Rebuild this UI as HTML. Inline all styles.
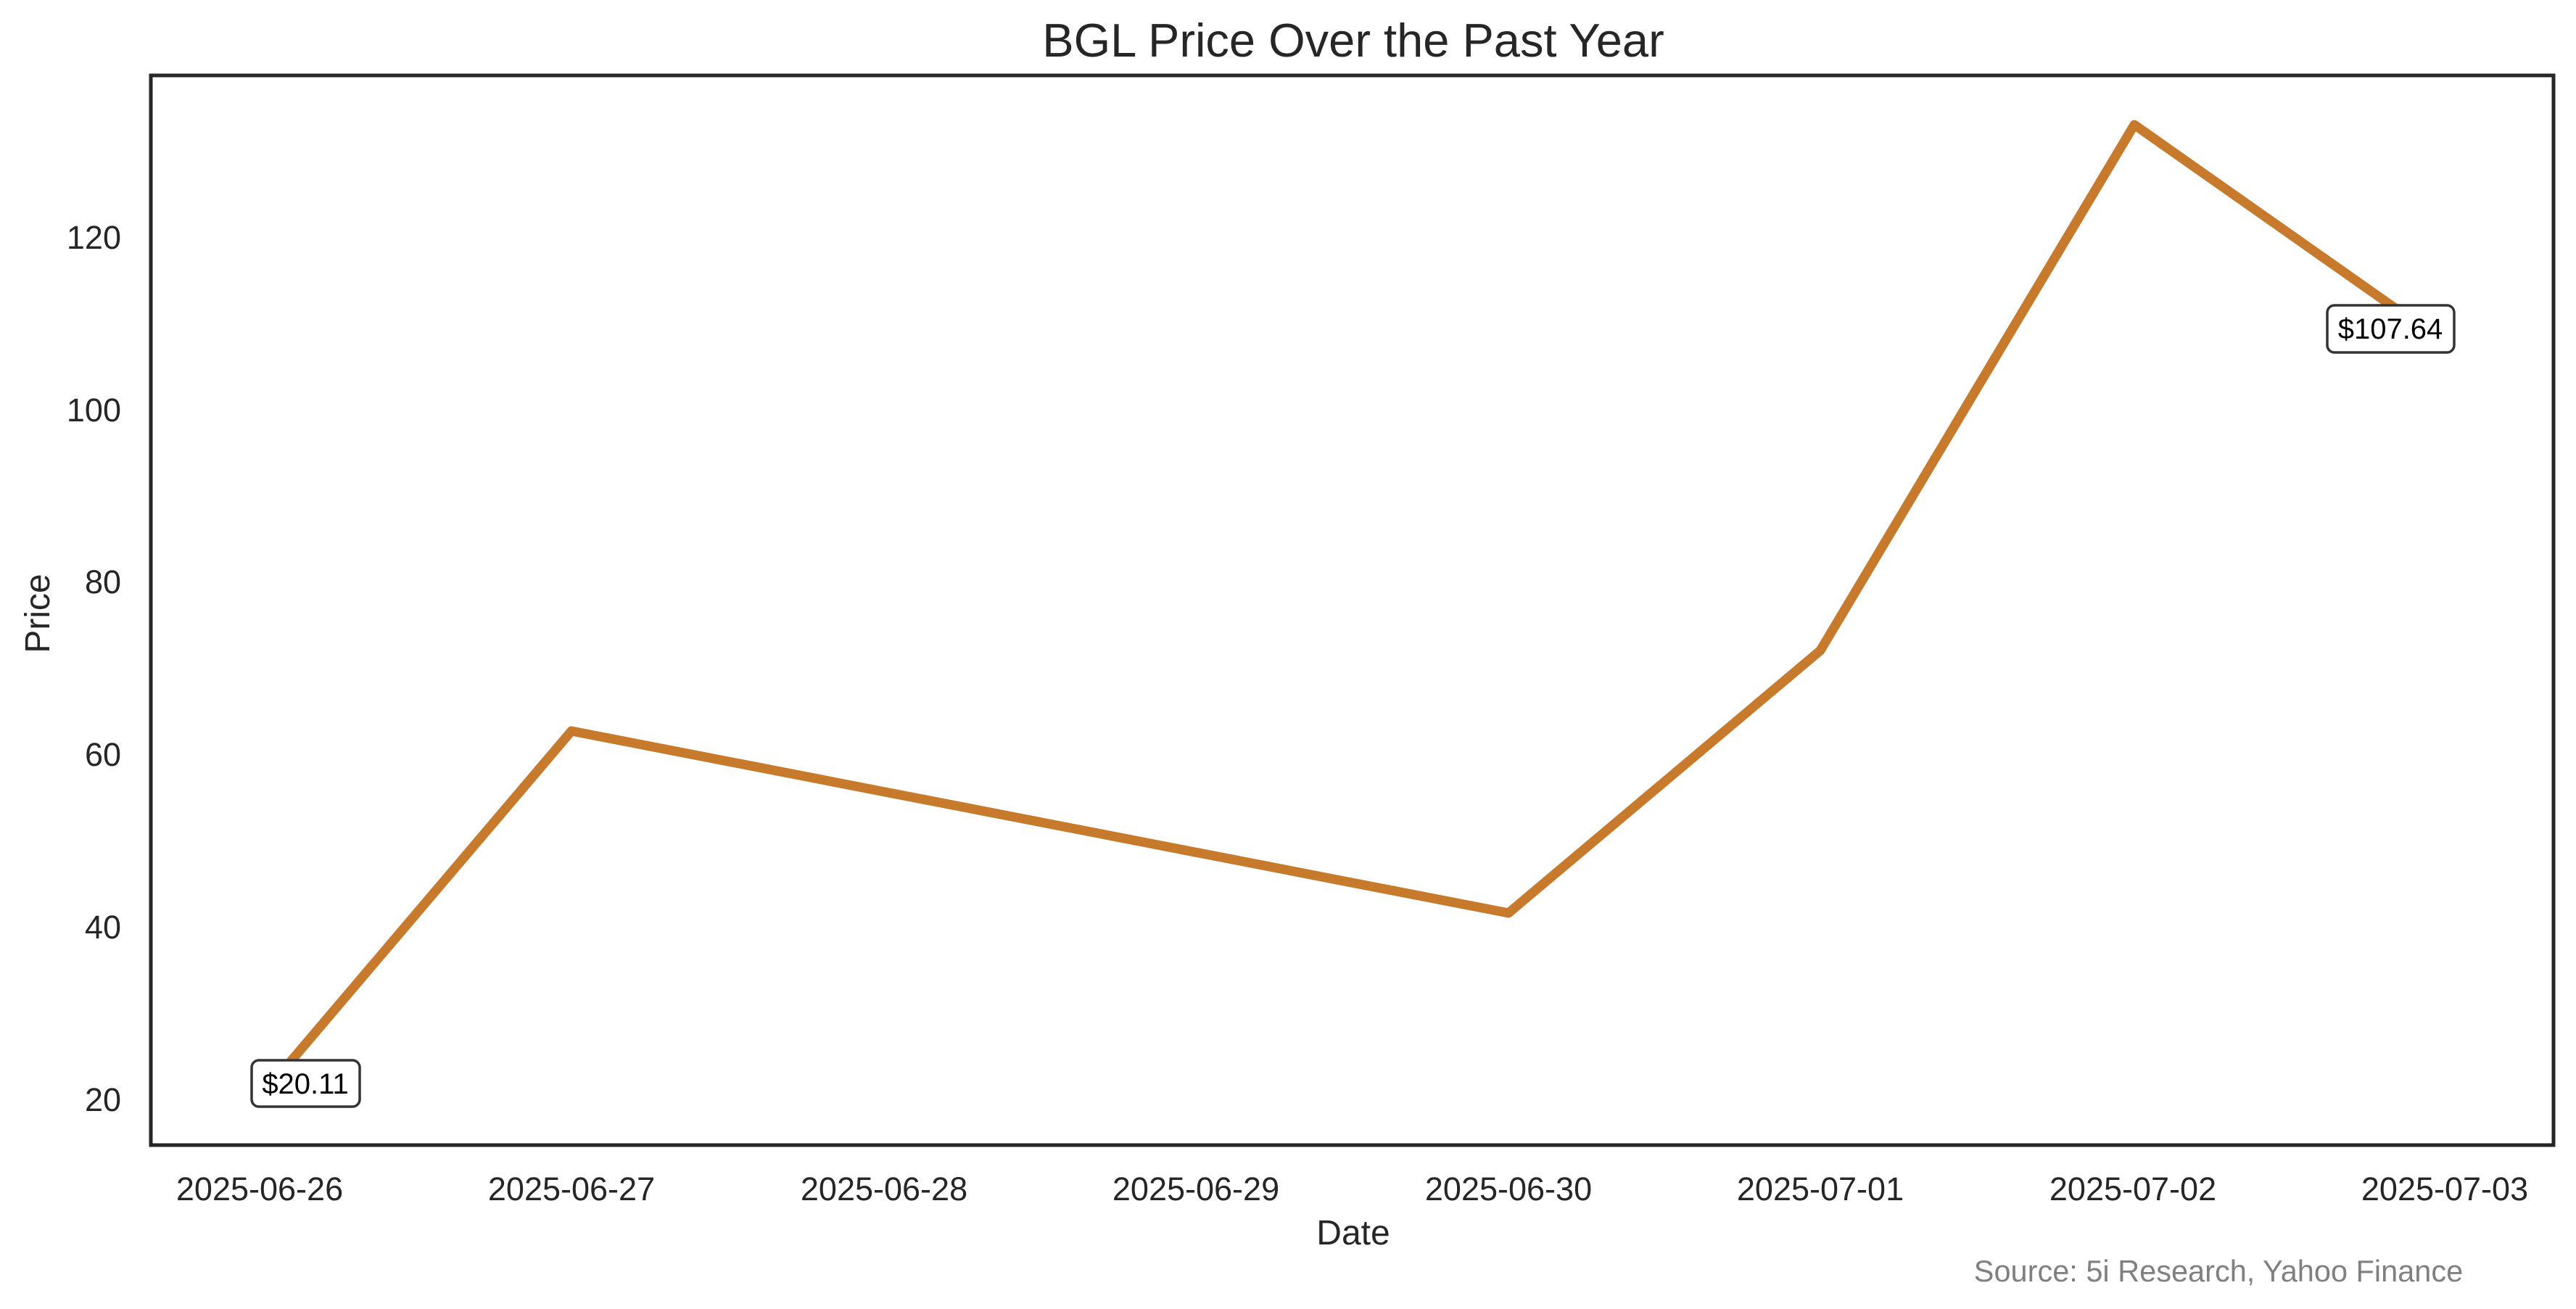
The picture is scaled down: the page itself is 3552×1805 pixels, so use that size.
<!DOCTYPE html>
<html><head><meta charset="utf-8"><style>
html,body{margin:0;padding:0;background:#fff;}
svg{display:block;}
text{font-family:"Liberation Sans",Arial,sans-serif;}
</style></head><body>
<svg width="3552" height="1805" viewBox="0 0 3552 1805" xmlns="http://www.w3.org/2000/svg">
<rect width="3552" height="1805" fill="#fff"/>
<text x="1866" y="78" font-size="65" fill="#262626" text-anchor="middle">BGL Price Over the Past Year</text>
<polyline points="358,1514 788,1008 2080,1259 2510,897 2943,172 3371,473" fill="none" stroke="#c87a2c" stroke-width="13" stroke-linejoin="round" stroke-linecap="round"/>
<rect x="208" y="104" width="3313" height="1475" fill="none" stroke="#262626" stroke-width="5"/>
<g font-size="45" fill="#262626" text-anchor="end">
<text x="167" y="1532">20</text>
<text x="167" y="1294">40</text>
<text x="167" y="1056">60</text>
<text x="167" y="818">80</text>
<text x="167" y="581">100</text>
<text x="167" y="343">120</text>
</g>
<g font-size="45" fill="#262626" text-anchor="middle">
<text x="358" y="1655">2025-06-26</text>
<text x="788" y="1655">2025-06-27</text>
<text x="1219" y="1655">2025-06-28</text>
<text x="1649" y="1655">2025-06-29</text>
<text x="2080" y="1655">2025-06-30</text>
<text x="2510" y="1655">2025-07-01</text>
<text x="2941" y="1655">2025-07-02</text>
<text x="3371" y="1655">2025-07-03</text>
</g>
<text x="1866" y="1716" font-size="48" fill="#262626" text-anchor="middle">Date</text>
<text transform="translate(68,846) rotate(-90)" font-size="48" fill="#262626" text-anchor="middle">Price</text>
<rect x="347" y="1462" width="149" height="64" rx="10" fill="#fff" stroke="#333" stroke-width="3.5"/>
<text x="421" y="1508" font-size="40" fill="#000" text-anchor="middle">$20.11</text>
<rect x="3209" y="421" width="175" height="65" rx="10" fill="#fff" stroke="#333" stroke-width="3.5"/>
<text x="3296" y="467" font-size="40" fill="#000" text-anchor="middle">$107.64</text>
<text x="3059" y="1767" font-size="41.5" fill="#808080" text-anchor="middle">Source: 5i Research, Yahoo Finance</text>
</svg>
</body></html>
